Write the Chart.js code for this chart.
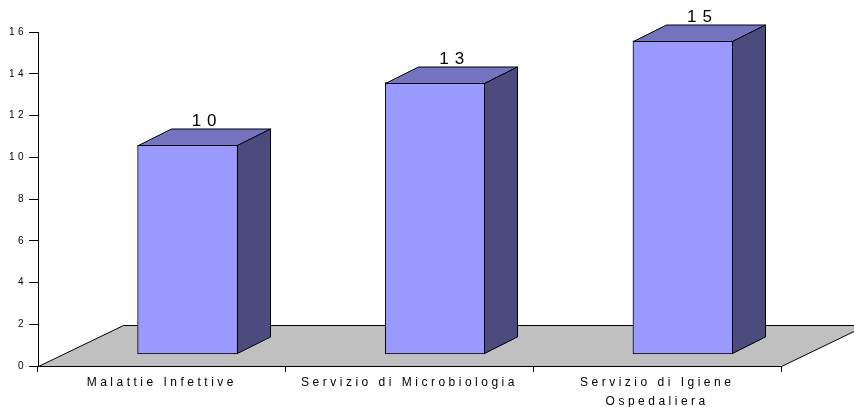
<!DOCTYPE html>
<html>
<head>
<meta charset="utf-8">
<script src="https://cdn.jsdelivr.net/npm/chart.js@4.4.1/dist/chart.umd.min.js"></script>
<style>
    html, body { margin: 0; padding: 0; background: #fff; }
    #wrap { width: 854px; height: 407px; }
</style>
</head>
<body>
<div id="wrap"><canvas id="reparti" width="854" height="407"></canvas></div>
<script>
// Data
const categories = ['Malattie Infettive', 'Servizio di Microbiologia', ['Servizio di Igiene', 'Ospedaliera']];
const values = [10, 13, 15];
const yTicks = [0, 2, 4, 6, 8, 10, 12, 14, 16];

// 3D look
const FRONT = '#9999FF';
const TOP = '#7373BF';
const SIDE = '#4B4B7E';
const FLOOR = '#C0C0C0';
const BAR_DX = 33, BAR_DY = 16.5;     // bar depth offset
const FLOOR_DX = 85, FLOOR_DY = 41;   // floor depth offset

const floorPlugin = {
    id: 'floor',
    beforeDraw(chart) {
        chart.ctx.letterSpacing = '3.5px';
    },
    beforeDatasetsDraw(chart) {
        const { ctx, chartArea } = chart;
        const y0 = Math.round(chart.scales.y.getPixelForValue(0)) + 0.5;
        const l = chartArea.left + 0.5, r = chartArea.right + 0.5;
        ctx.save();
        ctx.beginPath();
        ctx.moveTo(l, y0);
        ctx.lineTo(l + FLOOR_DX, y0 - FLOOR_DY);
        ctx.lineTo(r + FLOOR_DX, y0 - FLOOR_DY);
        ctx.lineTo(r, y0);
        ctx.closePath();
        ctx.fillStyle = FLOOR;
        ctx.fill();
        ctx.lineWidth = 1;
        ctx.strokeStyle = '#000';
        ctx.stroke();
        ctx.restore();
    },
    afterDatasetsDraw(chart) {
        const { ctx } = chart;
        const meta = chart.getDatasetMeta(0);
        ctx.save();
        ctx.lineWidth = 1;
        ctx.strokeStyle = '#000';
        ctx.lineJoin = 'miter';
        meta.data.forEach((bar, i) => {
            const p = bar.getProps(['x', 'y', 'base', 'width'], true);
            const left = Math.round(p.x - p.width / 2) + 0.5;
            const right = Math.round(p.x + p.width / 2) - 0.5;
            const top = Math.round(p.y) + 0.5;
            const base = Math.round(p.base) - 0.5;

            // top face
            ctx.beginPath();
            ctx.moveTo(left, top);
            ctx.lineTo(left + BAR_DX, top - BAR_DY);
            ctx.lineTo(right + BAR_DX, top - BAR_DY);
            ctx.lineTo(right, top);
            ctx.closePath();
            ctx.fillStyle = TOP;
            ctx.fill();
            ctx.stroke();

            // side face
            ctx.beginPath();
            ctx.moveTo(right, top);
            ctx.lineTo(right + BAR_DX, top - BAR_DY);
            ctx.lineTo(right + BAR_DX, base - BAR_DY);
            ctx.lineTo(right, base);
            ctx.closePath();
            ctx.fillStyle = SIDE;
            ctx.fill();
            ctx.stroke();

            // value label
            ctx.font = '17px "Liberation Sans", Arial, sans-serif';
            ctx.letterSpacing = '6px';
            ctx.fillStyle = '#000';
            ctx.textAlign = 'center';
            ctx.textBaseline = 'alphabetic';
            ctx.fillText(String(values[i]), p.x + BAR_DX / 2 + 3, top - BAR_DY - 3);
        });
        ctx.restore();
    },
    afterDraw(chart) {
        chart.ctx.letterSpacing = '0px';
    }
};

const ctx = document.getElementById('reparti').getContext('2d');
new Chart(ctx, {
    type: 'bar',
    data: {
        labels: categories,
        datasets: [{
            data: values.map((v, i) => ({ x: i, y: v })),
            xAxisID: 'xBar',
            yAxisID: 'yBar',
            backgroundColor: FRONT,
            borderColor: '#000',
            borderWidth: 1,
            borderSkipped: false,
            barThickness: 100
        }]
    },
    options: {
        responsive: false,
        animation: false,
        layout: { padding: { left: 0, right: 73, top: 32, bottom: 0 } },
        plugins: {
            legend: { display: false },
            tooltip: { enabled: false }
        },
        scales: {
            x: {
                type: 'category',
                offset: true,
                grid: { offset: true, drawOnChartArea: false, tickLength: 6, color: '#000' },
                border: { color: '#000' },
                ticks: {
                    color: '#000',
                    font: { family: '"Liberation Sans", Arial, sans-serif', size: 12, lineHeight: 1.6 },
                    padding: 1,
                    maxRotation: 0,
                    autoSkip: false
                },
                afterFit(scale) { scale.height = 41; }
            },
            y: {
                min: yTicks[0],
                max: yTicks[yTicks.length - 1],
                afterBuildTicks(scale) { scale.ticks = yTicks.map(v => ({ value: v })); },
                grid: { drawOnChartArea: false, tickLength: 9, color: '#000' },
                border: { color: '#000' },
                ticks: {
                    color: '#000',
                    font: { family: '"Liberation Sans", Arial, sans-serif', size: 10 },
                    padding: 2
                },
                afterFit(scale) { scale.width = 38; }
            },
            xBar: {
                type: 'linear',
                display: false,
                offset: false,
                grid: { offset: false },
                min: -0.604,
                max: 2.396
            },
            yBar: {
                type: 'linear',
                display: false,
                min: -0.575,
                max: 15.425
            }
        }
    },
    plugins: [floorPlugin]
});
</script>
</body>
</html>
